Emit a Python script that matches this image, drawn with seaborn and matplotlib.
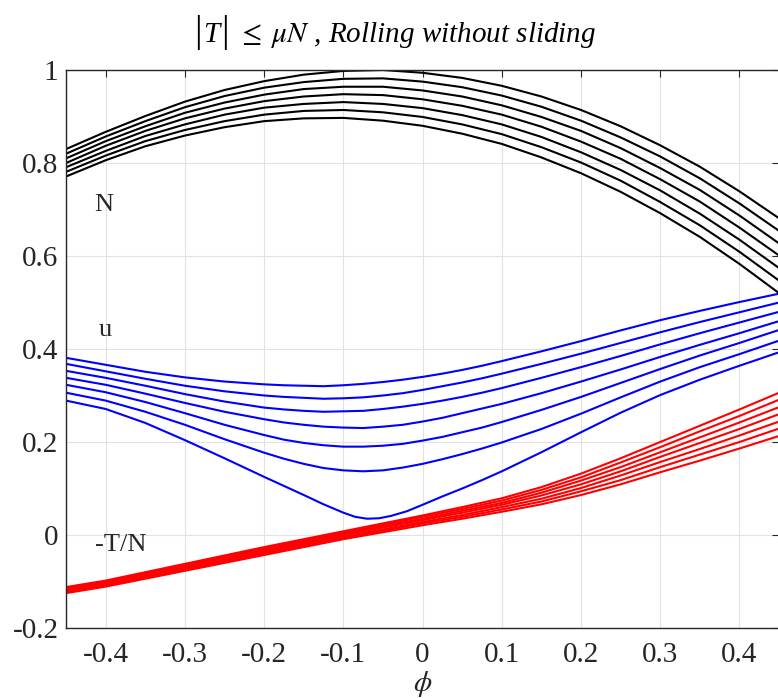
import numpy as np
import pandas as pd
import matplotlib
matplotlib.use("Agg")
import matplotlib.pyplot as plt
from matplotlib.offsetbox import TextArea, HPacker, AnchoredOffsetbox
import seaborn as sns

# ---------------- data ----------------
phi = [-0.45, -0.40, -0.35, -0.30, -0.25, -0.20, -0.15, -0.10, -0.05, 0.00,
       0.05, 0.10, 0.15, 0.20, 0.25, 0.30, 0.35, 0.40, 0.45]

# N curves (black), top to bottom
N_1 = [0.830, 0.867, 0.901, 0.932, 0.957, 0.976, 0.990, 0.998, 1.000, 0.994, 0.983, 0.966, 0.943, 0.914, 0.879, 0.838, 0.792, 0.739, 0.681]
N_2 = [0.820, 0.857, 0.890, 0.920, 0.944, 0.962, 0.974, 0.981, 0.982, 0.975, 0.963, 0.945, 0.921, 0.891, 0.855, 0.814, 0.767, 0.713, 0.654]
N_3 = [0.810, 0.847, 0.879, 0.908, 0.930, 0.947, 0.959, 0.964, 0.964, 0.956, 0.943, 0.924, 0.899, 0.869, 0.832, 0.789, 0.742, 0.687, 0.627]
N_4 = [0.800, 0.837, 0.869, 0.896, 0.917, 0.933, 0.943, 0.948, 0.946, 0.937, 0.923, 0.904, 0.878, 0.846, 0.809, 0.765, 0.717, 0.661, 0.601]
N_5 = [0.791, 0.826, 0.858, 0.883, 0.904, 0.919, 0.927, 0.931, 0.927, 0.918, 0.903, 0.883, 0.856, 0.823, 0.785, 0.741, 0.691, 0.635, 0.574]
N_6 = [0.781, 0.816, 0.847, 0.871, 0.890, 0.904, 0.912, 0.914, 0.909, 0.899, 0.883, 0.862, 0.834, 0.801, 0.762, 0.716, 0.666, 0.609, 0.547]
N_7 = [0.771, 0.806, 0.836, 0.859, 0.877, 0.890, 0.896, 0.897, 0.891, 0.880, 0.863, 0.841, 0.812, 0.778, 0.738, 0.692, 0.641, 0.583, 0.520]

# u curves (blue), top to bottom
phi_u = [-0.45, -0.40, -0.35, -0.30, -0.25, -0.20, -0.175, -0.15, -0.125, -0.10, -0.075, -0.05,
         -0.025, 0.00, 0.025, 0.05, 0.075, 0.10, 0.15, 0.20, 0.25, 0.30, 0.35, 0.40, 0.45]
u_1 = [0.381, 0.366, 0.351, 0.339, 0.330, 0.324, 0.322, 0.321, 0.320, 0.322, 0.325, 0.329,
       0.334, 0.340, 0.347, 0.355, 0.364, 0.374, 0.395, 0.417, 0.440, 0.462, 0.482, 0.501, 0.519]
u_2 = [0.368, 0.352, 0.336, 0.321, 0.309, 0.300, 0.297, 0.295, 0.293, 0.294, 0.296, 0.300,
       0.305, 0.312, 0.320, 0.328, 0.337, 0.347, 0.368, 0.390, 0.413, 0.436, 0.458, 0.479, 0.500]
u_3 = [0.353, 0.338, 0.321, 0.303, 0.287, 0.274, 0.270, 0.267, 0.265, 0.266, 0.267, 0.271,
       0.276, 0.282, 0.289, 0.297, 0.306, 0.316, 0.338, 0.361, 0.385, 0.410, 0.434, 0.457, 0.480]
u_4 = [0.338, 0.323, 0.304, 0.284, 0.265, 0.249, 0.242, 0.237, 0.233, 0.231, 0.230, 0.233,
       0.237, 0.244, 0.252, 0.262, 0.272, 0.282, 0.305, 0.330, 0.356, 0.383, 0.409, 0.434, 0.460]
u_5 = [0.323, 0.307, 0.286, 0.262, 0.237, 0.215, 0.205, 0.198, 0.193, 0.190, 0.190, 0.192,
       0.196, 0.203, 0.211, 0.221, 0.231, 0.243, 0.269, 0.297, 0.327, 0.357, 0.386, 0.413, 0.441]
u_6 = [0.306, 0.289, 0.265, 0.237, 0.206, 0.177, 0.164, 0.153, 0.144, 0.139, 0.137, 0.139,
       0.145, 0.153, 0.163, 0.174, 0.186, 0.199, 0.228, 0.261, 0.296, 0.330, 0.361, 0.389, 0.418]
phi_u7 = [-0.45, -0.40, -0.35, -0.30, -0.25, -0.20, -0.15, -0.125, -0.10, -0.085, -0.07, -0.055,
          -0.04, -0.02, 0.00, 0.025, 0.05, 0.075, 0.10, 0.15, 0.20, 0.25, 0.30, 0.35, 0.40, 0.45]
u_7 = [0.289, 0.271, 0.241, 0.204, 0.165, 0.125, 0.086, 0.066, 0.048, 0.039, 0.035, 0.036,
       0.041, 0.051, 0.065, 0.083, 0.100, 0.118, 0.137, 0.178, 0.221, 0.263, 0.301, 0.334, 0.364, 0.393]

# -T/N curves (red), top to bottom at the right end
T_1 = [-0.112, -0.098, -0.080, -0.062, -0.044, -0.026, -0.009, 0.008, 0.025, 0.042, 0.060, 0.079, 0.103, 0.132, 0.165, 0.200, 0.235, 0.270, 0.306]
T_2 = [-0.114, -0.100, -0.082, -0.064, -0.047, -0.029, -0.012, 0.005, 0.022, 0.039, 0.056, 0.074, 0.097, 0.124, 0.156, 0.189, 0.223, 0.256, 0.291]
T_3 = [-0.116, -0.102, -0.085, -0.067, -0.049, -0.032, -0.015, 0.002, 0.019, 0.035, 0.052, 0.069, 0.091, 0.117, 0.146, 0.178, 0.210, 0.242, 0.275]
T_4 = [-0.119, -0.105, -0.087, -0.070, -0.052, -0.035, -0.018, 0.000, 0.016, 0.032, 0.048, 0.065, 0.085, 0.109, 0.137, 0.168, 0.198, 0.228, 0.260]
T_5 = [-0.121, -0.107, -0.089, -0.072, -0.055, -0.037, -0.020, -0.003, 0.012, 0.028, 0.043, 0.060, 0.078, 0.101, 0.128, 0.157, 0.185, 0.214, 0.244]
T_6 = [-0.123, -0.109, -0.092, -0.075, -0.057, -0.040, -0.023, -0.006, 0.009, 0.025, 0.039, 0.055, 0.072, 0.094, 0.118, 0.146, 0.173, 0.200, 0.229]
T_7 = [-0.125, -0.111, -0.094, -0.077, -0.060, -0.043, -0.026, -0.009, 0.006, 0.021, 0.035, 0.050, 0.066, 0.086, 0.109, 0.135, 0.160, 0.186, 0.213]

x_ticks = [-0.4, -0.3, -0.2, -0.1, 0, 0.1, 0.2, 0.3, 0.4]
x_tick_labels = ["-0.4", "-0.3", "-0.2", "-0.1", "0", "0.1", "0.2", "0.3", "0.4"]
y_ticks = [-0.2, 0, 0.2, 0.4, 0.6, 0.8, 1]
y_tick_labels = ["-0.2", "0", "0.2", "0.4", "0.6", "0.8", "1"]

title_bar = "|"
title_T = "T"
title_rest = r" $\leq\;\mu N$ , Rolling without sliding"
x_label = r"$\phi$"
curve_labels = ["N", "u", "-T/N"]

# ---------------- build long table ----------------
frames = []
for gname, xs, curves in [("N", phi, [N_1, N_2, N_3, N_4, N_5, N_6, N_7]),
                          ("u", phi_u, [u_1, u_2, u_3, u_4, u_5, u_6]),
                          ("T", phi, [T_1, T_2, T_3, T_4, T_5, T_6, T_7])]:
    for i, c in enumerate(curves):
        frames.append(pd.DataFrame({"phi": xs, "value": c, "group": gname, "curve": f"{gname}{i}"}))
frames.append(pd.DataFrame({"phi": phi_u7, "value": u_7, "group": "u", "curve": "u6"}))
df = pd.concat(frames, ignore_index=True)

# ---------------- style ----------------
sns.set_style("white")
plt.rcParams["font.family"] = ["Liberation Serif", "DejaVu Serif"]
plt.rcParams["mathtext.fontset"] = "stix"
plt.rcParams["axes.unicode_minus"] = False

W, H = 778, 698
fig = plt.figure(figsize=(W / 100, H / 100), dpi=100)
ax = fig.add_axes([66.1 / W, (H - 628) / H, 713.0 / W, 558.0 / H])

colors = {"N": "#000000", "u": "#0000ff", "T": "#ff0000"}
for g in ["N", "u", "T"]:
    sns.lineplot(data=df[df["group"] == g], x="phi", y="value", units="curve",
                 estimator=None, sort=False, color=colors[g], lw=1.5,
                 legend=False, ax=ax)

ax.set_xlim(-0.45, 0.45)
ax.set_ylim(-0.2, 1.0)
ax.set_xticks(x_ticks)
ax.set_xticklabels(x_tick_labels)
ax.set_yticks(y_ticks)
ax.set_yticklabels(y_tick_labels)
ax.set_ylabel("")
ax.set_xlabel(x_label, fontsize=21, labelpad=1)

ax.grid(True, color="#e2e2e2", lw=0.8)
ax.set_axisbelow(True)
for s in ax.spines.values():
    s.set_color("#262626")
    s.set_linewidth(1.0)
    s.set_visible(True)
ax.tick_params(direction="in", length=5, width=0.8, color="#262626",
               top=True, right=True, labelsize=21, labelcolor="#262626")
ax.tick_params(axis="x", pad=10)
ax.tick_params(axis="y", pad=5.5)

ax.text(-0.414, 0.697, curve_labels[0], fontsize=19, ha="left", va="baseline")
ax.text(-0.409, 0.428, curve_labels[1], fontsize=19, ha="left", va="baseline")
ax.text(-0.414, -0.034, curve_labels[2], fontsize=19, ha="left", va="baseline")

# title: tall bars around italic T, then the rest in italic
bar_props = dict(fontsize=27, family=["Liberation Serif"], style="normal", color="black")
txt_props = dict(fontsize=21, family=["Liberation Serif"], style="italic", color="black")
parts = [TextArea(title_bar, textprops=bar_props),
         TextArea(title_T, textprops=txt_props),
         TextArea(title_bar, textprops=bar_props),
         TextArea(title_rest, textprops=txt_props)]
box = HPacker(children=parts, align="baseline", pad=0, sep=1)
anch = AnchoredOffsetbox(loc="center", child=box, pad=0, borderpad=0, frameon=False,
                         bbox_to_anchor=(395 / W, 1 - 32 / H),
                         bbox_transform=fig.transFigure)
fig.add_artist(anch)

fig.savefig("out.png", dpi=100)
